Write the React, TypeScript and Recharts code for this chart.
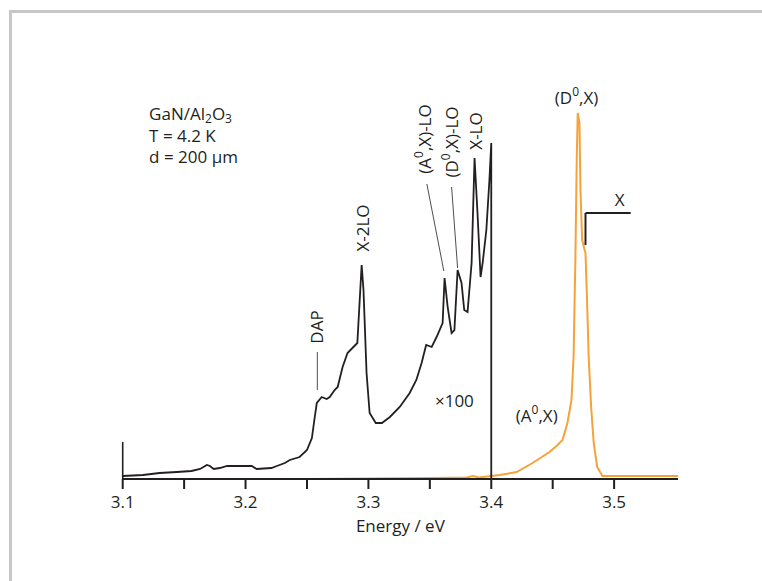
import { LineChart, Line, XAxis, YAxis, ReferenceLine, ReferenceDot } from 'recharts';

// black trace (x100), energies in eV and relative intensity
const blackEnergy = [
  3.1, 3.1165, 3.13, 3.144, 3.156, 3.163, 3.1685, 3.171, 3.174, 3.179, 3.185, 3.205, 3.209, 3.221, 3.2255,
  3.232, 3.236, 3.244, 3.25, 3.254, 3.256, 3.258, 3.262, 3.266, 3.2685, 3.2725, 3.275, 3.279, 3.283, 3.287,
  3.291, 3.2945, 3.296, 3.2985, 3.301, 3.306, 3.311, 3.3175, 3.3255, 3.3336, 3.339, 3.3433, 3.347, 3.3515,
  3.3555, 3.3604, 3.362, 3.3645, 3.3677, 3.37, 3.3726, 3.3758, 3.378, 3.3807, 3.384, 3.3864, 3.3888, 3.3913,
  3.393, 3.396, 3.3985, 3.4, 3.4,
];
const blackIntensity = [
  3, 4, 6, 7, 8, 10, 14, 13, 10, 11, 13, 13, 10, 11, 13,
  16, 19, 22, 29, 41, 59, 76, 82, 80, 82, 89, 92, 112, 126, 131,
  136, 214, 189, 106, 66, 56, 56, 62, 72, 86, 99, 116, 134, 132,
  142, 156, 201, 172, 146, 149, 209, 196, 169, 167, 216, 321, 266, 202,
  216, 249, 299, 336, 0,
];

// orange trace (x1)
const orangeEnergy = [
  3.25, 3.3, 3.35, 3.38, 3.385, 3.39, 3.4, 3.4067, 3.4206, 3.4336, 3.4474, 3.454, 3.458, 3.462, 3.4653,
  3.467, 3.4685, 3.4696, 3.4704, 3.4718, 3.4726, 3.474, 3.476, 3.4767, 3.4777, 3.4793, 3.4813, 3.4834,
  3.4862, 3.4905, 3.52, 3.552,
];
const orangeIntensity = [
  0, 0.5, 1, 1.5, 3, 1.5, 3, 4, 7, 16, 27, 34, 39, 56, 79,
  122, 222, 322, 366, 356, 289, 239, 229, 226, 189, 122, 72, 36,
  12, 3, 3, 3,
];

const xTicks = [3.1, 3.15, 3.2, 3.25, 3.3, 3.35, 3.4, 3.45, 3.5];

const blackData = blackEnergy.map((e, i) => ({ e, v: blackIntensity[i] }));
const orangeData = orangeEnergy.map((e, i) => ({ e, v: orangeIntensity[i] }));

const FONT = '"Open Sans", sans-serif';
const FS = 17;
const INK = '#231f20';
const ORANGE = '#f6a23a';

type Part = { t: string; sup?: boolean };

const spans = (parts: Part[]) =>
  parts.map((s, i) =>
    s.sup ? (
      <tspan key={i} fontSize={12} dy={-6}>{s.t}</tspan>
    ) : (
      <tspan key={i} dy={i > 0 && parts[i - 1].sup ? 6 : 0}>{s.t}</tspan>
    )
  );

// rotated peak label
const vLabel = (parts: Part[]) => (p: any) => (
  <text
    transform={`translate(${p.cx},${p.cy}) rotate(-90)`}
    textAnchor="middle"
    dominantBaseline="central"
    fontFamily={FONT}
    fontSize={FS}
    fill={INK}
  >
    {spans(parts)}
  </text>
);

const hLabel = (parts: Part[]) => (p: any) => (
  <text x={p.cx} y={p.cy} textAnchor="middle" dominantBaseline="central" fontFamily={FONT} fontSize={FS} fill={INK}>
    {spans(parts)}
  </text>
);

const infoLine = (parts: Part[], sub = false) => (p: any) => (
  <text x={p.cx} y={p.cy} fontFamily={FONT} fontSize={FS} fill={INK}>
    {parts.map((s, i) =>
      s.sup ? (
        <tspan key={i} fontSize={12} dy={3}>{s.t}</tspan>
      ) : (
        <tspan key={i} dy={i > 0 && parts[i - 1].sup ? -3 : 0}>{s.t}</tspan>
      )
    )}
  </text>
);

const App = () => {
  return (
    <div style={{ position: 'absolute', left: 0, top: 0, width: 762, height: 581, background: '#fff' }}>
      <div
        style={{
          position: 'absolute', left: 9, top: 10, right: 0, bottom: 0,
          borderTop: '3px solid #c6c8c7', borderLeft: '3px solid #c6c8c7',
        }}
      />
      <div style={{ position: 'absolute', left: 0, top: 0 }}>
        <LineChart
          width={762}
          height={581}
          margin={{ top: 79, right: 84, left: 122.7, bottom: 42 }}
        >
          <XAxis
            dataKey="e"
            type="number"
            domain={[3.1, 3.552]}
            ticks={xTicks}
            allowDataOverflow
            tickSize={10}
            tickMargin={7}
            height={60}
            stroke={INK}
            strokeWidth={2}
            tick={{ fill: INK, fontSize: FS, fontFamily: FONT }}
            tickFormatter={(t: number) => (Math.round(t * 100) % 10 === 0 ? t.toFixed(1) : '')}
            label={{ value: 'Energy / eV', position: 'insideBottom', offset: 7, fill: INK, fontSize: FS, fontFamily: FONT }}
          />
          <YAxis type="number" domain={[0, 400]} hide />

          {/* small y stub at the left end */}
          <ReferenceLine segment={[{ x: 3.1, y: 0 }, { x: 3.1, y: 37 }]} stroke={INK} strokeWidth={1.6} />

          <Line data={orangeData} dataKey="v" type="linear" stroke={ORANGE} strokeWidth={2} dot={false} isAnimationActive={false} />
          <Line data={blackData} dataKey="v" type="linear" stroke={INK} strokeWidth={1.8} dot={false} isAnimationActive={false} />

          {/* leader lines */}
          <ReferenceLine segment={[{ x: 3.2584, y: 127 }, { x: 3.2584, y: 89 }]} stroke={INK} strokeWidth={0.8} />
          <ReferenceLine segment={[{ x: 3.3476, y: 295 }, { x: 3.3614, y: 208 }]} stroke={INK} strokeWidth={0.8} />
          <ReferenceLine segment={[{ x: 3.3677, y: 292 }, { x: 3.3726, y: 211 }]} stroke={INK} strokeWidth={0.8} />
          {/* X bracket */}
          <ReferenceLine segment={[{ x: 3.4767, y: 234 }, { x: 3.4767, y: 266 }]} stroke={INK} strokeWidth={2} />
          <ReferenceLine segment={[{ x: 3.4767, y: 266 }, { x: 3.5135, y: 266 }]} stroke={INK} strokeWidth={2} />

          <ReferenceDot x={3.1215} y={359} r={0} shape={infoLine([{ t: 'GaN/Al' }, { t: '2', sup: true }, { t: 'O' }, { t: '3', sup: true }])} />
          <ReferenceDot x={3.1215} y={337} r={0} shape={infoLine([{ t: 'T = 4.2 K' }])} />
          <ReferenceDot x={3.1215} y={316} r={0} shape={infoLine([{ t: 'd = 200 µm' }])} />
          <ReferenceDot x={3.2575} y={152} r={0} shape={vLabel([{ t: 'DAP' }])} />
          <ReferenceDot x={3.2944} y={251} r={0} shape={vLabel([{ t: 'X-2LO' }])} />
          <ReferenceDot x={3.345} y={340} r={0} shape={vLabel([{ t: '(A' }, { t: '0', sup: true }, { t: ',X)-LO' }])} />
          <ReferenceDot x={3.367} y={337} r={0} shape={vLabel([{ t: '(D' }, { t: '0', sup: true }, { t: ',X)-LO' }])} />
          <ReferenceDot x={3.3865} y={348} r={0} shape={vLabel([{ t: 'X-LO' }])} />
          <ReferenceDot x={3.37} y={79} r={0} shape={hLabel([{ t: '×100' }])} />
          <ReferenceDot x={3.437} y={64} r={0} shape={hLabel([{ t: '(A' }, { t: '0', sup: true }, { t: ',X)' }])} />
          <ReferenceDot x={3.4694} y={382} r={0} shape={hLabel([{ t: '(D' }, { t: '0', sup: true }, { t: ',X)' }])} />
          <ReferenceDot x={3.5045} y={280} r={0} shape={hLabel([{ t: 'X' }])} />
        </LineChart>
      </div>
    </div>
  );
};

export default App;
